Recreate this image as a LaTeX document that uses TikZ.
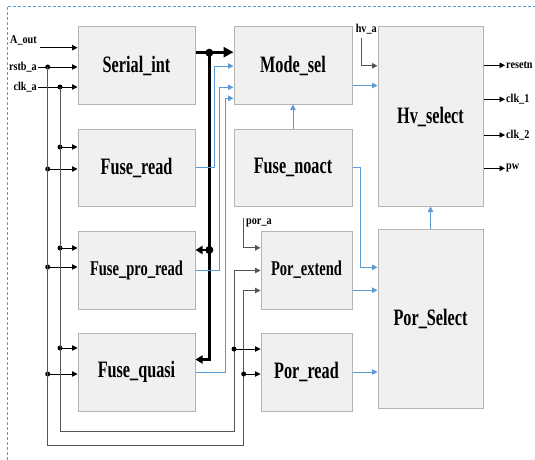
\documentclass[tikz,border=0pt]{standalone}
\usepackage{fontspec}
\setmainfont{Liberation Serif}
\newfontfamily\bigf{Liberation Serif}[FakeStretch=0.69]
\newfontfamily\smf{Liberation Serif}[FakeStretch=0.85]
\usetikzlibrary{arrows.meta,calc}
\definecolor{boxgray}{HTML}{B4B4B4}
\definecolor{boxfill}{HTML}{F0F0F0}
\definecolor{blu}{HTML}{5B9BD5}
\definecolor{wiregray}{HTML}{555555}
\begin{document}
\begin{tikzpicture}[x=1pt,y=-1pt,
  blk/.style={draw=boxgray, fill=boxfill, line width=1pt, inner sep=0pt,
    font=\bigf\bfseries\fontsize{23.5}{26}\selectfont},
  smtxt/.style={font=\bigf\bfseries\fontsize{21}{24}\selectfont},
  lbl/.style={inner sep=1pt, font=\smf\bfseries\fontsize{12}{14}\selectfont},
  arr/.style={-{Triangle[length=5.5pt,width=5.5pt]}},
  bl/.style={draw=black, line width=0.8pt},
  wire/.style={draw=wiregray, line width=1pt},
  bluw/.style={draw=blu, line width=0.9pt},
  bus/.style={draw=black, line width=3pt},
  vbus/.style={draw=black, line width=2.4pt},
  bigarr/.style={-{Triangle[length=10pt,width=10pt]}},
  midarr/.style={-{Triangle[length=7pt,width=8pt]}},
  dot/.style={circle, fill=black, inner sep=0pt, minimum size=5pt},
  bdot/.style={circle, fill=black, inner sep=0pt, minimum size=8pt}]
\useasboundingbox (0,0) rectangle (535,460);

% dashed frame
\draw[blu, line width=0.8pt, dash pattern=on 3pt off 2pt] (7,460) -- (7,6) -- (536,6);

% blocks
\node[blk, minimum width=117pt, minimum height=77pt] (ser) at (136.5,65.5) {Serial\_int};
\node[blk, minimum width=117pt, minimum height=77pt] (fread) at (136.5,167.5) {Fuse\_read};
\node[blk, smtxt, minimum width=117pt, minimum height=78pt] (fpro) at (136.5,270) {Fuse\_pro\_read};
\node[blk, minimum width=117pt, minimum height=78pt] (fquasi) at (136.5,372) {Fuse\_quasi};
\node[blk, minimum width=118pt, minimum height=77pt] (mode) at (293,65.5) {Mode\_sel};
\node[blk, minimum width=118pt, minimum height=77pt] (noact) at (293,167.5) {Fuse\_noact};
\node[blk, smtxt, minimum width=91pt, minimum height=78pt] (porext) at (306.5,270) {Por\_extend};
\node[blk, minimum width=91pt, minimum height=78pt] (porread) at (306.5,372) {Por\_read};
\node[blk, minimum width=105pt, minimum height=179pt] (hv) at (430.5,116.5) {Hv\_select};
\node[blk, minimum width=105pt, minimum height=179pt] (porsel) at (430.5,318.5) {Por\_Select};

% input labels
\node[lbl, anchor=east] (aout) at (38,40) {A\_out};
\node[lbl, anchor=east] (rstb) at (38,67) {rstb\_a};
\node[lbl, anchor=east] (clka) at (38,87) {clk\_a};
\coordinate (aoutS) at (40,47.7);
\draw[bl,arr] (aoutS) -- (aoutS -| ser.west);
\draw[bl,arr] (rstb.east) -- (rstb.east -| ser.west);
\draw[bl,arr] (clka.east) -- (clka.east -| ser.west);

% rstb route
\node[dot] (r1) at (47.7,67) {};
\node[dot] (r2) at (47.7,169) {};
\node[dot] (r3) at (47.7,267) {};
\node[dot] (r4) at (47.7,374) {};
\coordinate (rr) at (243.7,445.7);
\coordinate (rpe) at ($(porext.north west)+(0,60)$);
\draw[wire,arr] (r1.center) |- (rr) |- (rpe);
\draw[bl,arr] (r2.center) -- (r2 -| fread.west);
\draw[bl,arr] (r3.center) -- (r3 -| fpro.west);
\draw[bl,arr] (r4.center) -- (r4 -| fquasi.west);
\node[dot] (r5) at (243.7,374) {};
\draw[bl,arr] (r5.center) -- (r5 -| porread.west);

% clk route
\node[dot] (c1) at (60,87) {};
\node[dot] (c2) at (60,147) {};
\node[dot] (c3) at (60,248) {};
\node[dot] (c4) at (60,348) {};
\coordinate (cr) at (234,431);
\coordinate (cpe) at ($(porext.north west)+(0,40)$);
\draw[wire,arr] (c1.center) |- (cr) |- (cpe);
\draw[bl,arr] (c2.center) -- (c2 -| fread.west);
\draw[bl,arr] (c3.center) -- (c3 -| fpro.west);
\draw[bl,arr] (c4.center) -- (c4 -| fquasi.west);
\node[dot] (c5) at (234,349) {};
\draw[bl,arr] (c5.center) -- (c5 -| porread.west);

% por_a
\coordinate (pa) at (243.7,218);
\node[lbl, anchor=west] (pora) at (245,222.5) {por\_a};
\coordinate (ppe) at ($(porext.north west)+(0,17.3)$);
\draw[wire,arr] (pa) |- (ppe);

% hv_a
\node[lbl] (hva) at (366.3,29) {hv\_a};
\coordinate (ha) at (361,37.7);
\coordinate (hve) at ($(hv.north west)+(0,39.3)$);
\draw[wire,arr] (ha) |- (hve);

% thick bus
\coordinate (serE) at ($(ser.north east)+(0,25.7)$);
\node[bdot] (b1) at (209.3,52.7) {};
\node[bdot] (b2) at (209.3,250) {};
\coordinate (fqE) at ($(fquasi.north east)+(0,27)$);
\draw[bus,bigarr] (serE) -- (serE -| mode.west);
\draw[vbus,midarr] (b1.center) |- (fqE);
\draw[vbus,midarr] (b2.center) -- (b2 -| fpro.east);

% blue connectors into Mode_sel
\coordinate (bx1) at (214.3,66);
\coordinate (bx2) at (219.7,87.3);
\coordinate (bx3) at (225.7,98.3);
\draw[bluw,arr] (fread.east) -| (bx1) -- (bx1 -| mode.west);
\draw[bluw,arr] (fpro.east) -| (bx2) -- (bx2 -| mode.west);
\draw[bluw,arr] (fquasi.east) -| (bx3) -- (bx3 -| mode.west);
\draw[bluw,arr] (noact.north) -- (mode.south);

% blue connectors right side
\coordinate (bx4) at (360.7,267.3);
\draw[bluw,arr] (noact.east) -| (bx4) -- (bx4 -| porsel.west);
\coordinate (mE) at ($(mode.north east)+(0,59)$);
\draw[bluw,arr] (mE) -- (mE -| hv.west);
\coordinate (peE) at ($(porext.north east)+(0,59.7)$);
\draw[bluw,arr] (peE) -- (peE -| porsel.west);
\draw[bluw,arr] (porread.east) -- (porread.east -| porsel.west);
\draw[bluw,arr] (porsel.north) -- (hv.south);

% outputs
\node[lbl, anchor=west] (resetn) at (505,65.3) {resetn};
\node[lbl, anchor=west] (clk1) at (505,99.3) {clk\_1};
\node[lbl, anchor=west] (clk2) at (505,135) {clk\_2};
\node[lbl, anchor=west] (pw) at (505,168.3) {pw};
\draw[bl,arr] (hv.east |- resetn.west) -- (resetn.west);
\draw[bl,arr] (hv.east |- clk1.west) -- (clk1.west);
\draw[bl,arr] (hv.east |- clk2.west) -- (clk2.west);
\draw[bl,arr] (hv.east |- pw.west) -- (pw.west);
\end{tikzpicture}
\end{document}
